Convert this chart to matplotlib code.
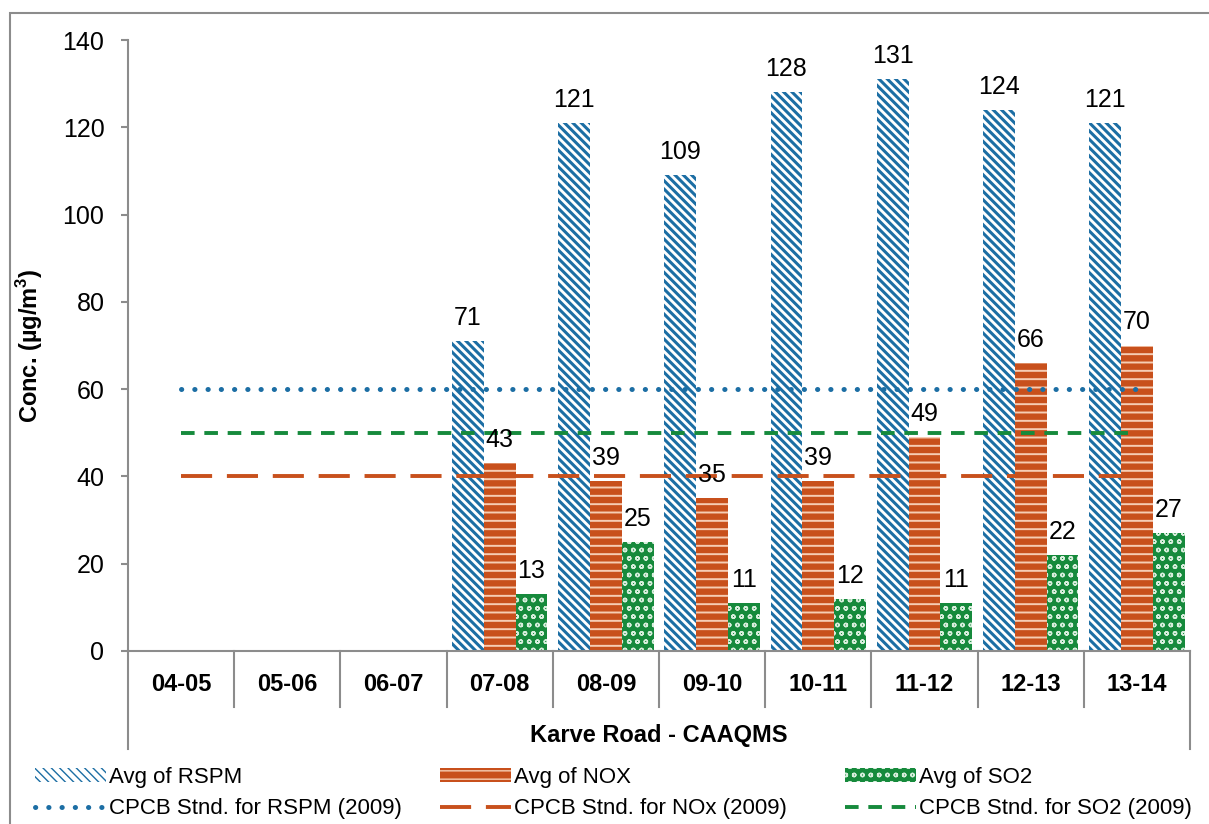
import matplotlib
matplotlib.use('Agg')
import matplotlib.pyplot as plt
import numpy as np
from matplotlib.patches import Rectangle
from matplotlib.lines import Line2D

plt.rcParams['font.family'] = ['Liberation Sans', 'DejaVu Sans']

years = ['04-05', '05-06', '06-07', '07-08', '08-09', '09-10', '10-11', '11-12', '12-13', '13-14']
rspm = [np.nan, np.nan, np.nan, 71, 121, 109, 128, 131, 124, 121]
nox = [np.nan, np.nan, np.nan, 43, 39, 35, 39, 49, 66, 70]
so2 = [np.nan, np.nan, np.nan, 13, 25, 11, 12, 11, 22, 27]
std_rspm = [60] * 10
std_nox = [40] * 10
std_so2 = [50] * 10

BLUE = '#1c6ea4'
ORANGE = '#c8501c'
GREEN = '#168a3c'
GREY = '#8c8c8c'

W, H = 1209, 824
fig = plt.figure(figsize=(W / 100, H / 100), dpi=100)
ax = fig.add_axes([128 / W, 1 - 651 / H, (1190 - 128) / W, (651 - 40) / H])

# outer chart border
fig.patches.append(Rectangle((10 / W, -0.05), 1.1, 1 - 13 / H + 0.05, transform=fig.transFigure,
                             fill=False, edgecolor=GREY, linewidth=1.5))

x = np.arange(len(years))
bw = 0.3

plt.rcParams['hatch.linewidth'] = 2.2
b1 = ax.bar(x - bw, rspm, bw, facecolor='white', edgecolor=BLUE, hatch='\\\\\\\\', linewidth=0,
            label='Avg of RSPM')
plt.rcParams['hatch.linewidth'] = 1.4
b2 = ax.bar(x, nox, bw, facecolor=ORANGE, edgecolor='#f6cdb4', hatch='--', linewidth=0,
            label='Avg of NOX')
plt.rcParams['hatch.linewidth'] = 1.0
b3 = ax.bar(x + bw, so2, bw, facecolor=GREEN, edgecolor='#d8eedd', hatch='oo', linewidth=0,
            label='Avg of SO2')

for bars, vals in [(b1, rspm), (b2, nox), (b3, so2)]:
    for rect, v in zip(bars, vals):
        if np.isnan(v):
            continue
        ax.annotate(f'{v:.0f}', (rect.get_x() + rect.get_width() / 2, v),
                    xytext=(0, 8), textcoords='offset points', ha='center', va='bottom',
                    fontsize=18, zorder=5)

l1, = ax.plot(x, std_rspm, color=BLUE, linewidth=3.6, linestyle=(0, (0.05, 2.6)),
              label='CPCB Stnd. for RSPM (2009)', zorder=4)
l1.set_dash_capstyle('round')
l2, = ax.plot(x, std_nox, color=ORANGE, linewidth=2.8, linestyle=(0, (8, 3.8)),
              label='CPCB Stnd. for NOx (2009)', zorder=4)
l3, = ax.plot(x, std_so2, color=GREEN, linewidth=2.8, linestyle=(0, (3.5, 2.5)),
              label='CPCB Stnd. for SO2 (2009)', zorder=4)

ax.set_xlim(-0.5, len(years) - 0.5)
ax.set_ylim(0, 140)
ax.set_yticks(range(0, 141, 20))
ax.tick_params(axis='y', labelsize=18, length=5, width=1.5, color=GREY, pad=12)
ax.set_xticks(x)
ax.set_xticklabels(years, fontsize=17, fontweight='bold')
ax.tick_params(axis='x', length=0, pad=16)

for s in ['top', 'right']:
    ax.spines[s].set_visible(False)
for s in ['left', 'bottom']:
    ax.spines[s].set_color(GREY)
    ax.spines[s].set_linewidth(1.5)

# category separators below the axis
trans = ax.get_xaxis_transform()
for b in np.arange(0.5, len(years) - 1, 1.0):
    ax.add_line(Line2D([b, b], [0, -0.092], transform=trans, color=GREY, linewidth=1.5, clip_on=False))
for b in [-0.5, len(years) - 0.5]:
    ax.add_line(Line2D([b, b], [0, -0.16], transform=trans, color=GREY, linewidth=1.5, clip_on=False))

ax.set_xlabel('Karve Road - CAAQMS', fontsize=17, fontweight='bold')
ax.xaxis.set_label_coords(0.5, -0.12)
ax.set_ylabel('Conc. (µg/m$^\\mathregular{3}$)', fontsize=17, fontweight='bold')
ax.yaxis.set_label_coords(-0.078, 0.5)

# one legend column per pollutant, like the reference layout
for left, pair in zip([35, 440, 845], [(b1, l1), (b2, l2), (b3, l3)]):
    fig.legend(handles=list(pair), labels=[h.get_label() for h in pair], loc='center left',
               bbox_to_anchor=(left / W, 1 - 793 / H), frameon=False, fontsize=16,
               handlelength=3.2, handleheight=0.6, handletextpad=0.15,
               labelspacing=0.45, borderpad=0, borderaxespad=0)

fig.savefig('out.png', dpi=100)
